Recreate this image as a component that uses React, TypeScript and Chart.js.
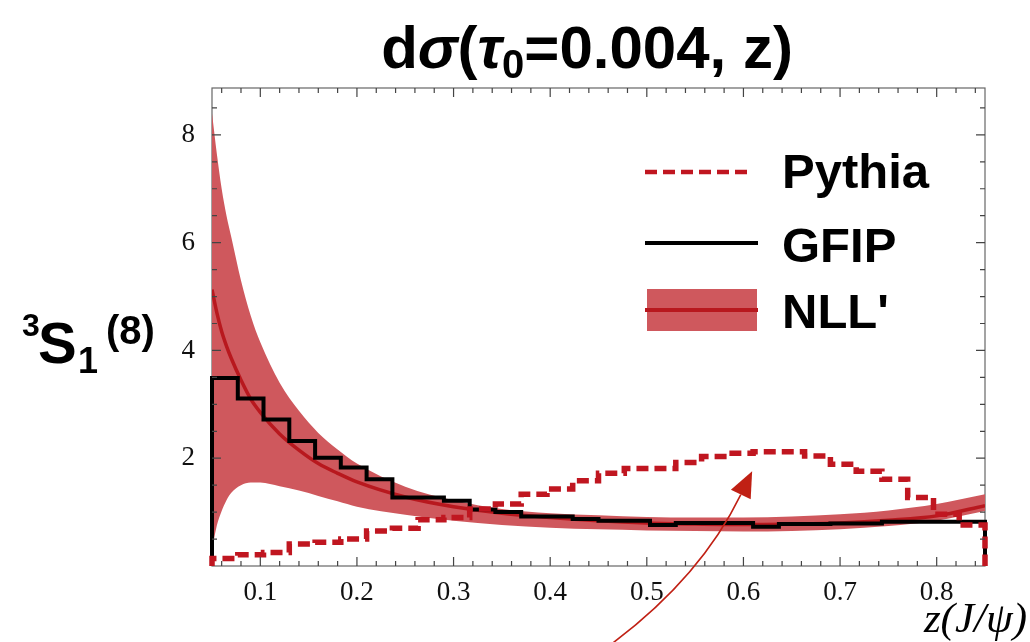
import React, { useEffect, useRef } from "react";
import { Chart, registerables } from "chart.js";

Chart.register(...registerables);

// ---- data ----
const binEdges = [
  0.05, 0.0767, 0.1033, 0.13, 0.1567, 0.1833, 0.21, 0.2367, 0.2633, 0.29,
  0.3167, 0.3433, 0.37, 0.3967, 0.4233, 0.45, 0.4767, 0.5033, 0.53, 0.5567,
  0.5833, 0.61, 0.6367, 0.6633, 0.69, 0.7167, 0.7433, 0.77, 0.7967, 0.8233, 0.85,
];
const gfipValues = [
  3.49, 3.11, 2.72, 2.32, 2.01, 1.83, 1.61, 1.27, 1.27, 1.21,
  1.05, 1.0, 0.92, 0.92, 0.87, 0.84, 0.84, 0.76, 0.8, 0.8,
  0.8, 0.73, 0.78, 0.78, 0.79, 0.79, 0.82, 0.82, 0.82, 0.82,
];
const pythiaValues = [
  0.14, 0.21, 0.25, 0.41, 0.44, 0.5, 0.65, 0.7, 0.86, 0.9,
  1.06, 1.15, 1.33, 1.43, 1.58, 1.72, 1.81, 1.81, 1.92, 2.03,
  2.09, 2.12, 2.12, 2.04, 1.89, 1.76, 1.61, 1.27, 0.96, 0.76,
];
const nllZ = [
  0.05, 0.055, 0.06, 0.065, 0.07, 0.08, 0.09, 0.1, 0.12, 0.14, 0.16, 0.18, 0.2,
  0.25, 0.3, 0.35, 0.4, 0.45, 0.5, 0.55, 0.6, 0.65, 0.7, 0.75, 0.8, 0.85,
];
const nllUpper = [
  8.4, 7.65, 7.0, 6.5, 6.1, 5.3, 4.65, 4.15, 3.4, 2.88, 2.47, 2.16, 1.9,
  1.47, 1.22, 1.06, 0.98, 0.94, 0.91, 0.9, 0.9, 0.92, 0.96, 1.03, 1.15, 1.33,
];
const nllCentral = [
  5.13, 4.7, 4.35, 4.08, 3.85, 3.45, 3.1, 2.85, 2.45, 2.15, 1.9, 1.72, 1.56,
  1.28, 1.1, 0.98, 0.9, 0.84, 0.8, 0.78, 0.77, 0.78, 0.8, 0.85, 0.93, 1.12,
];
const nllLower = [
  0.3, 0.75, 1.02, 1.22, 1.36, 1.5, 1.55, 1.55, 1.48, 1.4, 1.3, 1.2, 1.1,
  0.95, 0.84, 0.76, 0.71, 0.68, 0.66, 0.65, 0.64, 0.65, 0.68, 0.74, 0.84, 1.02,
];
const xTickValues = [0.1, 0.2, 0.3, 0.4, 0.5, 0.6, 0.7, 0.8];
const yTickValues = [2, 4, 6, 8];
const legendLabels = ["Pythia", "GFIP", "NLL'"];

// annotation arrow (data coordinates)
const arrowTail = { x: 0.464, y: -1.44 };
const arrowControl = { x: 0.556, y: -0.2 };
const arrowTip = { x: 0.609, y: 1.76 };

// ---- styles ----
const BAND = "rgb(207, 88, 93)";
const CENTRAL = "rgb(184, 24, 30)";
const PYTHIA = "rgb(192, 22, 32)";
const SANS = '"Liberation Sans", Arial, sans-serif';
const SERIF = '"Liberation Serif", "Times New Roman", serif';

function histPoints(vals: number[]) {
  const pts: { x: number; y: number }[] = [{ x: binEdges[0], y: 0 }];
  vals.forEach((v, i) => pts.push({ x: binEdges[i], y: v }));
  pts.push({ x: binEdges[vals.length], y: vals[vals.length - 1] });
  pts.push({ x: binEdges[vals.length], y: 0 });
  return pts;
}
function curve(vals: number[]) {
  return nllZ.map((z, i) => ({ x: z, y: vals[i] }));
}

type Seg = { t: string; font: string; x: number; y: number };
function drawSegs(ctx: CanvasRenderingContext2D, segs: Seg[]) {
  segs.forEach((s) => {
    ctx.font = s.font;
    ctx.fillText(s.t, s.x, s.y);
  });
}
function drawRich(
  ctx: CanvasRenderingContext2D,
  segs: { t: string; font: string; dy?: number }[],
  cx: number,
  y: number
) {
  let total = 0;
  const ws = segs.map((s) => {
    ctx.font = s.font;
    const w = ctx.measureText(s.t).width;
    total += w;
    return w;
  });
  let x = cx - total / 2;
  segs.forEach((s, i) => {
    ctx.font = s.font;
    ctx.fillText(s.t, x, y + (s.dy || 0));
    x += ws[i];
  });
}

const decorPlugin = {
  id: "decor",
  beforeDatasetsDraw(chart: any) {
    const { ctx, chartArea: a } = chart;
    ctx.save();
    ctx.strokeStyle = "#666";
    ctx.lineWidth = 1.2;
    ctx.strokeRect(a.left, a.top, a.right - a.left, a.bottom - a.top);
    ctx.restore();
  },
  afterDatasetsDraw(chart: any) {
    const { ctx, chartArea: a, scales } = chart;
    const xs = scales.x;
    const ys = scales.y;
    ctx.save();
    ctx.strokeStyle = "#444";
    ctx.lineWidth = 1.2;
    ctx.beginPath();
    for (let k = 3; k <= 42; k++) {
      const v = k * 0.02;
      if (v <= 0.05 || v >= 0.85) continue;
      const major = xTickValues.some((t) => Math.abs(t - v) < 1e-6);
      const len = major ? 9 : 5;
      const px = xs.getPixelForValue(v);
      ctx.moveTo(px, a.bottom);
      ctx.lineTo(px, a.bottom - len);
      ctx.moveTo(px, a.top);
      ctx.lineTo(px, a.top + len);
    }
    for (let k = 1; k <= 17; k++) {
      const v = k * 0.5;
      const major = yTickValues.some((t) => Math.abs(t - v) < 1e-6);
      const len = major ? 9 : 5;
      const py = ys.getPixelForValue(v);
      ctx.moveTo(a.left, py);
      ctx.lineTo(a.left + len, py);
      ctx.moveTo(a.right, py);
      ctx.lineTo(a.right - len, py);
    }
    ctx.stroke();
    ctx.restore();
  },
  afterDraw(chart: any) {
    const { ctx, scales } = chart;
    const xs = scales.x;
    const ys = scales.y;
    ctx.save();
    ctx.fillStyle = "#000";
    ctx.textBaseline = "alphabetic";
    ctx.textAlign = "left";

    // title
    const tf = `bold 60px ${SANS}`;
    const tfi = `italic bold 60px ${SANS}`;
    drawRich(
      ctx,
      [
        { t: "d", font: tf },
        { t: "σ", font: tfi },
        { t: "(", font: tf },
        { t: "τ", font: tfi },
        { t: "0", font: `bold 40px ${SANS}`, dy: 10 },
        { t: "=0.004, z)", font: tf },
      ],
      587,
      68
    );

    // y label
    drawSegs(ctx, [
      { t: "3", font: `bold 32px ${SANS}`, x: 22, y: 336 },
      { t: "S", font: `bold 58px ${SANS}`, x: 38, y: 363 },
      { t: "1", font: `bold 36px ${SANS}`, x: 78, y: 373 },
      { t: "(8)", font: `bold 40px ${SANS}`, x: 106, y: 344 },
    ]);

    // x label
    ctx.font = `italic 43px ${SERIF}`;
    ctx.textAlign = "right";
    ctx.fillText("z(J/ψ)", 1027, 632);
    ctx.textAlign = "left";

    // legend
    ctx.font = `bold 49px ${SANS}`;
    ctx.fillText(legendLabels[0], 782, 188);
    ctx.fillText(legendLabels[1], 782, 262);
    ctx.fillText(legendLabels[2], 782, 328);

    ctx.strokeStyle = PYTHIA;
    ctx.lineWidth = 4.5;
    ctx.setLineDash([12, 6]);
    ctx.beginPath();
    ctx.moveTo(645, 172);
    ctx.lineTo(752, 172);
    ctx.stroke();
    ctx.setLineDash([]);

    ctx.strokeStyle = "#000";
    ctx.lineWidth = 4;
    ctx.beginPath();
    ctx.moveTo(645, 243);
    ctx.lineTo(758, 243);
    ctx.stroke();

    ctx.fillStyle = BAND;
    ctx.fillRect(647, 289, 110, 42);
    ctx.strokeStyle = CENTRAL;
    ctx.lineWidth = 4;
    ctx.beginPath();
    ctx.moveTo(645, 310);
    ctx.lineTo(758, 310);
    ctx.stroke();

    // arrow
    const tx = xs.getPixelForValue(arrowTail.x);
    const ty = ys.getPixelForValue(arrowTail.y);
    const cx = xs.getPixelForValue(arrowControl.x);
    const cy = ys.getPixelForValue(arrowControl.y);
    const px = xs.getPixelForValue(arrowTip.x);
    const py = ys.getPixelForValue(arrowTip.y);
    let dx = px - cx;
    let dy = py - cy;
    const dl = Math.hypot(dx, dy);
    dx /= dl;
    dy /= dl;
    const headLen = 26;
    const headHalf = 11;
    const bx = px - dx * headLen;
    const by = py - dy * headLen;
    ctx.strokeStyle = "rgb(192, 32, 20)";
    ctx.fillStyle = "rgb(192, 32, 20)";
    ctx.lineWidth = 1.6;
    ctx.beginPath();
    ctx.moveTo(tx, ty);
    ctx.quadraticCurveTo(cx, cy, bx, by);
    ctx.stroke();
    ctx.beginPath();
    ctx.moveTo(px, py);
    ctx.lineTo(bx - dy * headHalf, by + dx * headHalf);
    ctx.lineTo(bx + dy * headHalf, by - dx * headHalf);
    ctx.closePath();
    ctx.fill();
    ctx.restore();
  },
};

export default function App() {
  const ref = useRef<HTMLCanvasElement | null>(null);
  useEffect(() => {
    if (!ref.current) return;
    const chart = new Chart(ref.current, {
      type: "line",
      data: {
        datasets: [
          {
            label: "Pythia",
            data: histPoints(pythiaValues),
            stepped: "before",
            borderColor: PYTHIA,
            borderWidth: 5.5,
            borderDash: [12, 6],
            pointRadius: 0,
            fill: false,
            clip: 8,
            order: 0,
          } as any,
          {
            label: "GFIP",
            data: histPoints(gfipValues),
            stepped: "before",
            borderColor: "#000",
            borderWidth: 4,
            pointRadius: 0,
            fill: false,
            clip: 8,
            order: 1,
          },
          {
            label: "NLL' central",
            data: curve(nllCentral),
            borderColor: CENTRAL,
            borderWidth: 3.5,
            pointRadius: 0,
            cubicInterpolationMode: "monotone",
            fill: false,
            order: 2,
          },
          {
            label: "NLL' upper",
            data: curve(nllUpper),
            borderColor: BAND,
            borderWidth: 0,
            backgroundColor: BAND,
            pointRadius: 0,
            cubicInterpolationMode: "monotone",
            fill: "+1",
            order: 3,
          },
          {
            label: "NLL' lower",
            data: curve(nllLower),
            borderColor: BAND,
            borderWidth: 0,
            pointRadius: 0,
            cubicInterpolationMode: "monotone",
            fill: false,
            order: 4,
          },
        ],
      },
      options: {
        animation: false,
        responsive: true,
        maintainAspectRatio: false,
        events: [],
        layout: { padding: { left: 0, top: 88, right: 45, bottom: 0 } },
        plugins: {
          legend: { display: false },
          tooltip: { enabled: false },
          title: { display: false },
        },
        scales: {
          x: {
            type: "linear",
            min: 0.05,
            max: 0.85,
            grid: { display: false },
            border: { display: false },
            ticks: {
              autoSkip: false,
              maxRotation: 0,
              padding: 3,
              color: "#111",
              font: { family: SERIF, size: 27 },
              callback: (v: any) => String(v),
            },
            afterBuildTicks: (s: any) => {
              s.ticks = xTickValues.map((v) => ({ value: v }));
            },
            afterFit: (s: any) => {
              s.height = 76;
            },
          },
          y: {
            type: "linear",
            min: 0,
            max: 8.87,
            grid: { display: false },
            border: { display: false },
            ticks: {
              autoSkip: false,
              padding: 9,
              color: "#111",
              font: { family: SERIF, size: 27 },
              callback: (v: any) => String(v),
            },
            afterBuildTicks: (s: any) => {
              s.ticks = yTickValues.map((v) => ({ value: v }));
            },
            afterFit: (s: any) => {
              s.width = 212;
            },
          },
        },
      },
      plugins: [decorPlugin],
    });
    return () => chart.destroy();
  }, []);
  return (
    <div style={{ position: "absolute", left: 0, top: 0, width: 1030, height: 642, background: "#fff" }}>
      <canvas ref={ref} />
    </div>
  );
}
